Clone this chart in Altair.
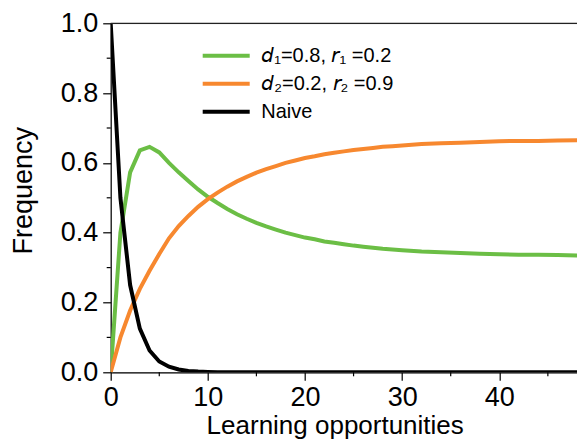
import altair as alt
import pandas as pd

# ---- data ----
t_vals = list(range(0, 31)) + [32, 34, 36, 38, 40, 42, 44, 46, 48, 50]

green_vals = [0.0, 0.40, 0.573, 0.636, 0.646, 0.630, 0.600, 0.573, 0.548, 0.524,
              0.503, 0.485, 0.468, 0.453, 0.440, 0.428, 0.418, 0.409, 0.400, 0.393,
              0.386, 0.381, 0.375, 0.371, 0.367, 0.363, 0.360, 0.357, 0.354, 0.352,
              0.350, 0.346, 0.344, 0.342, 0.340, 0.338, 0.337, 0.337, 0.336, 0.335, 0.335]

orange_vals = [0.0, 0.10, 0.177, 0.239, 0.291, 0.339, 0.384, 0.419, 0.448, 0.474,
               0.496, 0.515, 0.532, 0.547, 0.560, 0.572, 0.582, 0.591, 0.600, 0.607,
               0.614, 0.619, 0.625, 0.629, 0.633, 0.637, 0.640, 0.643, 0.646, 0.648,
               0.650, 0.654, 0.656, 0.658, 0.660, 0.662, 0.663, 0.663, 0.664, 0.665, 0.665]

naive_vals = [1.0, 0.5, 0.25, 0.125, 0.0625, 0.031, 0.016, 0.008, 0.004, 0.002,
              0.001, 0.0, 0.0, 0.0, 0.0, 0.0, 0.0, 0.0, 0.0, 0.0,
              0.0, 0.0, 0.0, 0.0, 0.0, 0.0, 0.0, 0.0, 0.0, 0.0,
              0.0, 0.0, 0.0, 0.0, 0.0, 0.0, 0.0, 0.0, 0.0, 0.0, 0.0]

# italic d / r (mathematical sans-serif italic) with subscript digits
series_names = ["\U0001D625\u2081=0.8, \U0001D633\u2081 =0.2",
                "\U0001D625\u2082=0.2, \U0001D633\u2082 =0.9",
                "Naive"]
series_colors = ["#6BBE45", "#F7882F", "#000000"]

x_major = [0, 10, 20, 30, 40]
x_minor = [5, 15, 25, 35, 45]
y_major = [0.0, 0.2, 0.4, 0.6, 0.8, 1.0]
y_minor = [0.1, 0.3, 0.5, 0.7, 0.9]

rows = []
for name, vals in zip(series_names, [green_vals, orange_vals, naive_vals]):
    for t, v in zip(t_vals, vals):
        rows.append({"t": t, "value": v, "series": name})
df = pd.DataFrame(rows)

FONT = "Liberation Sans"
W, H = 466.3, 349
XMAX = 48.0

x_scale = alt.Scale(domain=[0, XMAX], nice=False, zero=False)
y_scale = alt.Scale(domain=[0, 1], nice=False)

x_axis = alt.Axis(values=x_major, tickSize=8, tickWidth=1.2, tickColor="black",
                  domainColor="black", domainWidth=1.2, grid=False,
                  labelFont=FONT, labelFontSize=27, labelColor="black", labelPadding=4,
                  labelFlush=False, labelOverlap=False,
                  title="Learning opportunities", titleFont=FONT, titleFontSize=26,
                  titleFontWeight="normal", titleColor="black",
                  titleX=224, titleY=61, titleBaseline="alphabetic", titleAlign="center")
y_axis = alt.Axis(values=y_major, format=".1f", tickSize=8, tickWidth=1.2, tickColor="black",
                  domainColor="black", domainWidth=1.2, grid=False,
                  labelFont=FONT, labelFontSize=27, labelColor="black", labelPadding=5,
                  labelFlush=False, labelOverlap=False,
                  title="Frequency", titleFont=FONT, titleFontSize=27,
                  titleFontWeight="normal", titleColor="black",
                  titleX=-79.5, titleY=167, titleBaseline="alphabetic", titleAlign="center",
                  titleAngle=270)

lines = alt.Chart(df).mark_line(strokeWidth=4, clip=True).encode(
    x=alt.X("t:Q", scale=x_scale, axis=x_axis),
    y=alt.Y("value:Q", scale=y_scale, axis=y_axis),
    color=alt.Color("series:N",
                    scale=alt.Scale(domain=series_names, range=series_colors),
                    sort=series_names,
                    legend=alt.Legend(orient="none", legendX=103.5, legendY=20.5,
                                      title=None, symbolType="M-2.35,0H2.35",
                                      symbolStrokeWidth=4, symbolSize=400,
                                      labelFont=FONT, labelFontSize=20,
                                      labelColor="black", labelOffset=23,
                                      rowPadding=6, padding=0)),
    order=alt.Order("t:Q"),
)

minor_y = alt.Chart(pd.DataFrame({"value": y_minor})).mark_rule(
    color="black", strokeWidth=1.2).encode(
    y=alt.Y("value:Q", scale=y_scale, axis=y_axis),
    x=alt.value(-4), x2=alt.value(0))

minor_x = alt.Chart(pd.DataFrame({"t": x_minor})).mark_rule(
    color="black", strokeWidth=1.2).encode(
    x=alt.X("t:Q", scale=x_scale, axis=x_axis),
    y=alt.value(H), y2=alt.value(H + 4))

top_border = alt.Chart(pd.DataFrame({"value": [1.0]})).mark_rule(
    color="#222222", strokeWidth=1.3).encode(
    y=alt.Y("value:Q", scale=y_scale, axis=y_axis))

chart = alt.layer(lines, minor_y, minor_x, top_border).properties(
    width=W, height=H,
    padding={"left": 102.7, "top": 15.3, "right": 0, "bottom": 67.5},
    autosize=alt.AutoSizeParams(type="none"),
).configure_view(stroke=None).configure(font=FONT, background="white")

chart.save("out.html", embed_options={"renderer": "svg", "actions": False})
